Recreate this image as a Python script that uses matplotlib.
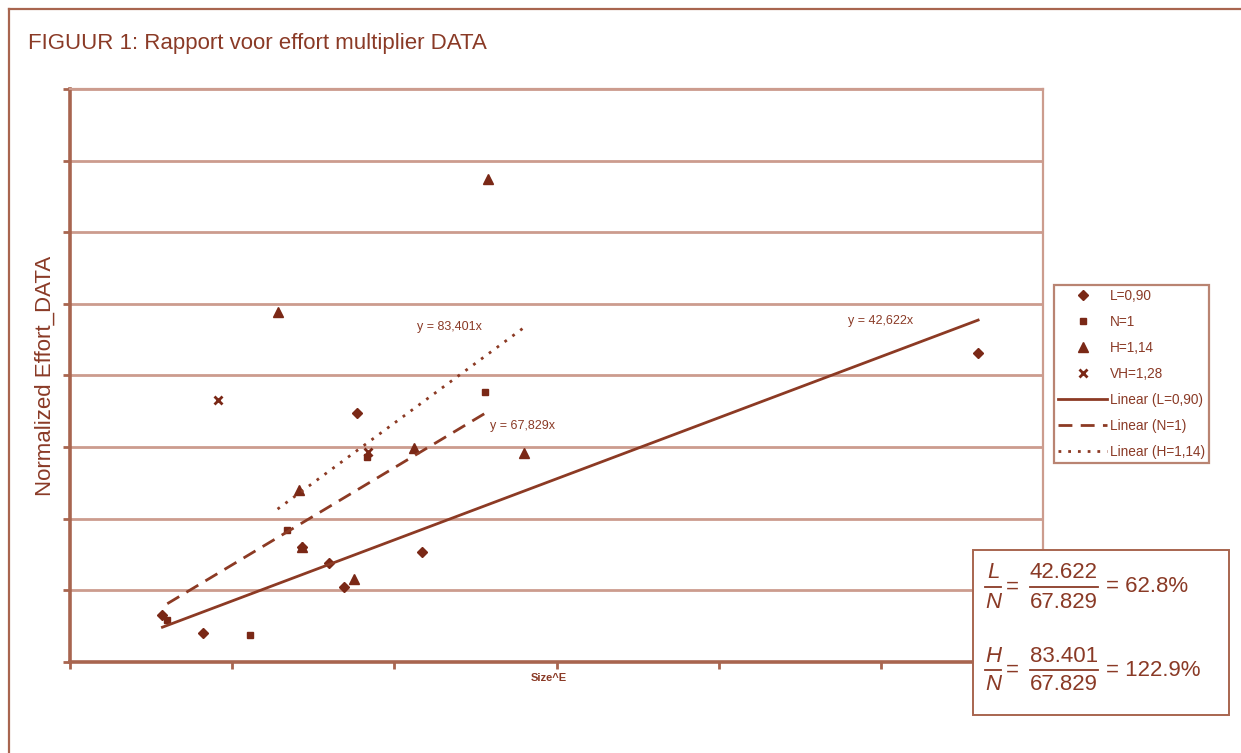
import numpy as np
import matplotlib
matplotlib.use("Agg")
import matplotlib.pyplot as plt
from matplotlib.lines import Line2D
from matplotlib.patches import Rectangle

plt.rcParams['font.family'] = ['Liberation Sans', 'DejaVu Sans']

# data (Size^E vs normalized effort)
L_x = [5.7, 8.2, 14.3, 16.0, 16.9, 17.7, 21.7, 56.0]
L_y = [330, 205, 800, 690, 525, 1740, 770, 2160]
N_x = [6.0, 11.1, 13.4, 18.3, 25.6]
N_y = [290, 190, 920, 1430, 1885]
H_x = [12.8, 14.1, 14.3, 17.5, 21.2, 25.8, 28.0]
H_y = [2445, 1200, 800, 580, 1495, 3370, 1460]
VH_x = [9.1, 18.4]
VH_y = [1830, 1465]

slopes = [42.622, 67.829, 83.401]
slope_labels = ['y = 42,622x', 'y = 67,829x', 'y = 83,401x']
legend_labels = ['L=0,90', 'N=1', 'H=1,14', 'VH=1,28',
                 'Linear (L=0,90)', 'Linear (N=1)', 'Linear (H=1,14)']
ratios = [('L', '42.622', '67.829', '62.8%'),
          ('H', '83.401', '67.829', '122.9%')]

dark = '#7a2816'
line_c = '#8c3a24'
grid_c = '#cc9c8e'
axis_c = '#a8654f'
text_c = '#8a3a26'

W, H = 1241, 753
fig = plt.figure(figsize=(W / 100, H / 100), dpi=100)
ax = fig.add_axes([70/W, 1-662/H, (1043-70)/W, (662-89)/H])

ax.set_xlim(0, 60)
ax.set_ylim(0, 4000)
ax.set_xticks(np.arange(0, 61, 10))
ax.set_yticks(np.arange(0, 4001, 500))
ax.set_xticklabels([])
ax.set_yticklabels([])
ax.grid(axis='y', color=grid_c, lw=2)
ax.set_axisbelow(True)
for s in ['left', 'bottom']:
    ax.spines[s].set_color(axis_c)
    ax.spines[s].set_linewidth(2.6)
for s in ['top', 'right']:
    ax.spines[s].set_color(grid_c)
    ax.spines[s].set_linewidth(1.6)
ax.tick_params(colors=axis_c, width=2, length=5, direction='out')

h1, = ax.plot(L_x, L_y, 'D', color=dark, ms=5, ls='none')
h2, = ax.plot(N_x, N_y, 's', color=dark, ms=5, ls='none')
h3, = ax.plot(H_x, H_y, '^', color=dark, ms=6.5, ls='none')
h4, = ax.plot(VH_x, VH_y, 'x', color=dark, ms=6, mew=2, ls='none')

styles = ['-', (0, (5, 3)), (0, (1, 2.5))]
line_handles = []
for xs, k, st in zip([L_x, N_x, H_x], slopes, styles):
    xx = np.array([min(xs), max(xs)])
    lh, = ax.plot(xx, k * xx, color=line_c, lw=2, ls=st)
    line_handles.append(lh)

ax.text(48.0, 2380, slope_labels[0], color=text_c, fontsize=9, va='center')
ax.text(25.9, 1650, slope_labels[1], color=text_c, fontsize=9, va='center')
ax.text(23.4, 2340, slope_labels[2], color=text_c, fontsize=9, va='center', ha='center')
ax.text(29.5, -80, 'Size^E', color=text_c, fontsize=8, fontweight='bold',
        ha='center', va='top')

ax.set_ylabel('Normalized Effort_DATA', color=text_c, fontsize=16, labelpad=2)

leg = fig.legend([h1, h2, h3, h4] + line_handles, legend_labels,
                 loc='upper left', bbox_to_anchor=(1054/W, 1-285/H),
                 frameon=True, fancybox=False, edgecolor=axis_c,
                 handlelength=3.6, labelspacing=0.88, borderpad=0.3,
                 handletextpad=0.2, borderaxespad=0,
                 prop={'size': 9.8})
leg.get_frame().set_linewidth(1.6)
for t in leg.get_texts():
    t.set_color(text_c)

# outer frame and title
fig.add_artist(Line2D([9/W, 9/W], [0, 1-9/H], color=axis_c, lw=1.6))
fig.add_artist(Line2D([9/W, 1], [1-9/H, 1-9/H], color=axis_c, lw=1.6))
fig.text(28/W, 1-43/H, 'FIGUUR 1: Rapport voor effort multiplier DATA',
         color=text_c, fontsize=16, va='center')

# ratio box
fig.add_artist(Rectangle((973/W, 1-715/H), (1229-973)/W, (715-550)/H,
                         transform=fig.transFigure, fill=True, facecolor='white',
                         edgecolor=axis_c, lw=1.4))
for i, (sym, num, den, res) in enumerate(ratios):
    yc = 587 + 83 * i
    kw = dict(color=text_c, fontsize=16, ha='center', va='center')
    fig.text(993/W, 1-(yc-14)/H, sym, style='italic', **kw)
    fig.text(993/W, 1-(yc+15)/H, 'N', style='italic', **kw)
    fig.add_artist(Line2D([985/W, 1001/W], [1-yc/H, 1-yc/H], color=text_c, lw=1.3))
    fig.text(1012/W, 1-yc/H, '=', **kw)
    fig.text(1064/W, 1-(yc-14)/H, num, **kw)
    fig.text(1064/W, 1-(yc+15)/H, den, **kw)
    fig.add_artist(Line2D([1030/W, 1098/W], [1-yc/H, 1-yc/H], color=text_c, lw=1.3))
    fig.text(1106/W, 1-yc/H, '= ' + res, color=text_c, fontsize=16, va='center')

fig.savefig('out.png', dpi=100)
